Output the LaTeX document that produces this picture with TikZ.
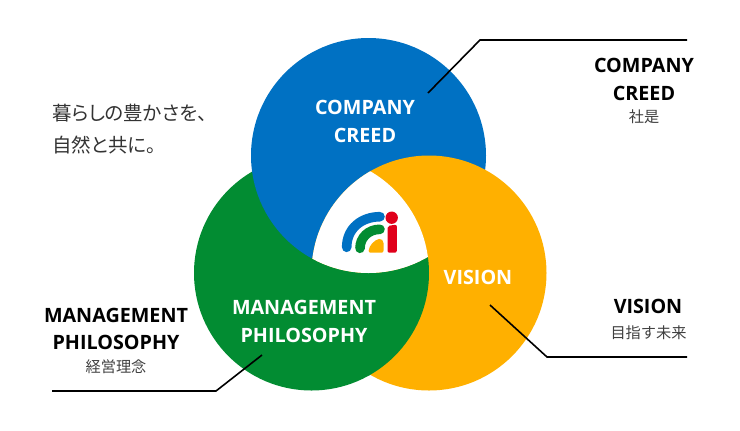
\documentclass[tikz,border=0pt]{standalone}
\usepackage{fontspec}
\setmainfont{Open Sans}
\newfontfamily\jpfont{Noto Sans CJK JP}
\newfontfamily\jppalt[RawFeature=+palt]{Noto Sans CJK JP}
\definecolor{creedblue}{HTML}{0071C3}
\definecolor{philgreen}{HTML}{028C32}
\definecolor{visionorange}{HTML}{FFB000}
\definecolor{logored}{HTML}{E0001B}
\tikzstyle{incircle} = [text=white, font=\bfseries\fontsize{14.8}{20.5}\selectfont, text centered, align=center, inner sep=0pt]
\tikzstyle{outlabel} = [text=black, font=\bfseries\fontsize{14.8}{20.5}\selectfont, text centered, align=center, inner sep=0pt]
\tikzstyle{sublabel} = [text=black!75, font=\jpfont\fontsize{11.4}{12}\selectfont, text centered, align=center, inner sep=0pt]
\tikzstyle{motto} = [text=black!80, font=\jppalt\fontsize{14.6}{24}\selectfont, align=left, inner sep=0pt]
\tikzstyle{leader} = [line width=1.2pt, black]
\tikzstyle{logoarc} = [line width=7.2pt, line cap=round]
\newcommand{\drawLeader}[3]
{
    \draw [leader] (#1) -- (#2) -- (#3);
}
\newcommand{\blueDisc}{(368.5,155.5) circle (117.5)}
\newcommand{\greenDisc}{(311.5,273) circle (117.5)}
\newcommand{\orangeDisc}{(429,273) circle (117.5)}

\begin{document}
\begin{tikzpicture}[x=0.75pt,y=-0.75pt]
\useasboundingbox (0,0) rectangle (740,430);

\fill [philgreen] \greenDisc;
\fill [creedblue] \blueDisc;
\fill [visionorange] \orangeDisc;
% green back over the orange, outside the blue
\begin{scope}[even odd rule]
\clip (0,0) rectangle (740,430) \blueDisc;
\clip (429,273) circle (118.5);
\fill [philgreen] \greenDisc;
\end{scope}
\begin{scope}
\clip \blueDisc;
\clip \orangeDisc;
\fill [white] \greenDisc;
\end{scope}

% logo
\draw [logoarc, creedblue] (346.7,247.3) .. controls (346.7,228) and (362,216.7) .. (380,216.7);
\draw [logoarc, philgreen] (360,248.3) .. controls (360,238) and (368,229.3) .. (380,229.3);
\fill [visionorange, rounded corners=1.5pt] (368.5,252.7) .. controls (369,246) and (374,240) .. (381,238.5) -- (383.5,241) -- (383.5,252.7) -- cycle;
\fill [logored] (391.7,217.7) circle (6.2);
\fill [logored, rounded corners=1.5pt] (387.5,226) -- (396.8,224.5) -- (396.8,252.7) -- (387.5,252.7) -- cycle;

\node (creedin) [incircle] at (365,121.5) {COMPANY\\CREED};
\node (philin) [incircle] at (304,321.5) {MANAGEMENT\\PHILOSOPHY};
\node (visionin) [incircle] at (478,277) {VISION};

\node (creedout) [outlabel] at (644,79.5) {COMPANY\\CREED};
\node (creedsub) [sublabel] at (644,117) {社是};
\node (philout) [outlabel] at (116,329) {MANAGEMENT\\PHILOSOPHY};
\node (philsub) [sublabel] at (116,366.5) {経営理念};
\node (visionout) [outlabel] at (648,306) {VISION};
\node (visionsub) [sublabel] at (648.5,332.5) {目指す未来};
\node (mottotext) [motto, anchor=west] at (52,129) {暮らしの豊かさを、\\自然と共に。};

\coordinate (creedA) at (428,93);
\coordinate (creedB) at (480,40);
\coordinate (creedC) at (687,40);
\coordinate (philA) at (262,355);
\coordinate (philB) at (216,391);
\coordinate (philC) at (52,391);
\coordinate (visionA) at (490,305);
\coordinate (visionB) at (547,357);
\coordinate (visionC) at (687,357);

\drawLeader{creedA}{creedB}{creedC}
\drawLeader{philA}{philB}{philC}
\drawLeader{visionA}{visionB}{visionC}

\end{tikzpicture}
\end{document}
